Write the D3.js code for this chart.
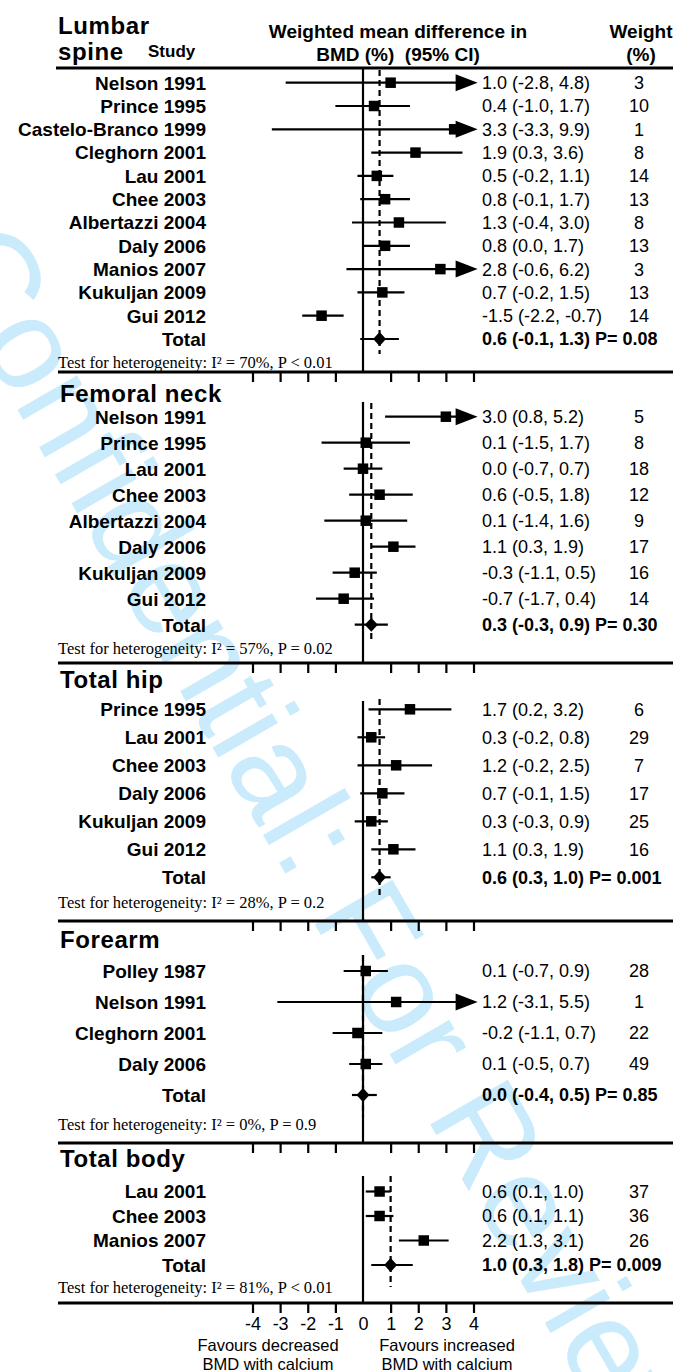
<!DOCTYPE html>
<html>
<head>
<meta charset="utf-8">
<script src="https://cdn.jsdelivr.net/npm/d3@7"></script>
<style>
html,body{margin:0;padding:0;background:#fff;}
svg{display:block;}
</style>
</head>
<body>
<svg id="chart" width="673" height="1372"></svg>
<script>
// ---------------- DATA ----------------
const sectionTitles = ["Lumbar spine", "Femoral neck", "Total hip", "Forearm", "Total body"];

const lumbarStudies = ["Nelson 1991","Prince 1995","Castelo-Branco 1999","Cleghorn 2001","Lau 2001","Chee 2003","Albertazzi 2004","Daly 2006","Manios 2007","Kukuljan 2009","Gui 2012"];
const lumbarMean   = [1.0, 0.4, 3.3, 1.9, 0.5, 0.8, 1.3, 0.8, 2.8, 0.7, -1.5];
const lumbarLow    = [-2.8, -1.0, -3.3, 0.3, -0.2, -0.1, -0.4, 0.0, -0.6, -0.2, -2.2];
const lumbarHigh   = [4.8, 1.7, 9.9, 3.6, 1.1, 1.7, 3.0, 1.7, 6.2, 1.5, -0.7];
const lumbarWeight = [3, 10, 1, 8, 14, 13, 8, 13, 3, 13, 14];

const femoralStudies = ["Nelson 1991","Prince 1995","Lau 2001","Chee 2003","Albertazzi 2004","Daly 2006","Kukuljan 2009","Gui 2012"];
const femoralMean   = [3.0, 0.1, 0.0, 0.6, 0.1, 1.1, -0.3, -0.7];
const femoralLow    = [0.8, -1.5, -0.7, -0.5, -1.4, 0.3, -1.1, -1.7];
const femoralHigh   = [5.2, 1.7, 0.7, 1.8, 1.6, 1.9, 0.5, 0.4];
const femoralWeight = [5, 8, 18, 12, 9, 17, 16, 14];

const hipStudies = ["Prince 1995","Lau 2001","Chee 2003","Daly 2006","Kukuljan 2009","Gui 2012"];
const hipMean   = [1.7, 0.3, 1.2, 0.7, 0.3, 1.1];
const hipLow    = [0.2, -0.2, -0.2, -0.1, -0.3, 0.3];
const hipHigh   = [3.2, 0.8, 2.5, 1.5, 0.9, 1.9];
const hipWeight = [6, 29, 7, 17, 25, 16];

const forearmStudies = ["Polley 1987","Nelson 1991","Cleghorn 2001","Daly 2006"];
const forearmMean   = [0.1, 1.2, -0.2, 0.1];
const forearmLow    = [-0.7, -3.1, -1.1, -0.5];
const forearmHigh   = [0.9, 5.5, 0.7, 0.7];
const forearmWeight = [28, 1, 22, 49];

const bodyStudies = ["Lau 2001","Chee 2003","Manios 2007"];
const bodyMean   = [0.6, 0.6, 2.2];
const bodyLow    = [0.1, 0.1, 1.3];
const bodyHigh   = [1.0, 1.1, 3.1];
const bodyWeight = [37, 36, 26];

const totalMean = [0.6, 0.3, 0.6, 0.0, 1.0];
const totalLow  = [-0.1, -0.3, 0.3, -0.4, 0.3];
const totalHigh = [1.3, 0.9, 1.0, 0.5, 1.8];
const totalP    = ["0.08", "0.30", "0.001", "0.85", "0.009"];
const heterogeneity = ["I\u00B2 = 70%, P < 0.01", "I\u00B2 = 57%, P = 0.02", "I\u00B2 = 28%, P = 0.2", "I\u00B2 = 0%, P = 0.9", "I\u00B2 = 81%, P < 0.01"];

const tickValues = [-4, -3, -2, -1, 0, 1, 2, 3, 4];
const axisLabelLeft  = ["Favours decreased", "BMD with calcium"];
const axisLabelRight = ["Favours increased", "BMD with calcium"];
const watermarkText = "Confidential: For Review Only";

// ---------------- LAYOUT ----------------
const sections = [
  {studies: lumbarStudies, mean: lumbarMean, low: lumbarLow, high: lumbarHigh, weight: lumbarWeight},
  {studies: femoralStudies, mean: femoralMean, low: femoralLow, high: femoralHigh, weight: femoralWeight},
  {studies: hipStudies, mean: hipMean, low: hipLow, high: hipHigh, weight: hipWeight},
  {studies: forearmStudies, mean: forearmMean, low: forearmLow, high: forearmHigh, weight: forearmWeight},
  {studies: bodyStudies, mean: bodyMean, low: bodyLow, high: bodyHigh, weight: bodyWeight}
];
const geom = [
  {title: null, first: 82.7, step: 23.3, het: 363, sep: 372, zeroTop: 68, dashTop: 70, dashBot: 354},
  {title: 393, first: 416.7, step: 26, het: 649, sep: 663, zeroTop: 402, dashTop: 403, dashBot: 643},
  {title: 679, first: 709.3, step: 28, het: 903, sep: 921, zeroTop: 701, dashTop: 699, dashBot: 898},
  {title: 939, first: 971, step: 31, het: 1125, sep: 1143, zeroTop: 955, dashTop: 955, dashBot: 1117},
  {title: 1158, first: 1191.5, step: 24.5, het: 1288, sep: 1303, zeroTop: 1176, dashTop: 1176, dashBot: 1287}
];

const W = 673;
const lineLeft = 58;
const labelRight = 206;
const estX = 482;
const weightX = 639;
const clipMax = 4.15;
const SANS = "'Liberation Sans', Arial, Helvetica, sans-serif";
const SERIF = "'Liberation Serif', 'Times New Roman', serif";

const svg = d3.select("#chart");
const x = d3.scaleLinear().domain([-4, 4]).range([252.5, 473.5]);

// ---------- watermark ----------
svg.append("text")
  .attr("transform", "translate(-70,258) rotate(60)")
  .attr("font-family", SANS)
  .attr("font-size", 130)
  .attr("fill", "#c9ebfb")
  .text(watermarkText);

// ---------- header ----------
svg.append("text").attr("x", 58).attr("y", 34).attr("font-family", SANS).attr("font-weight", "bold")
  .attr("font-size", 24).attr("letter-spacing", 0.6).text("Lumbar");
svg.append("text").attr("x", 58).attr("y", 60).attr("font-family", SANS).attr("font-weight", "bold")
  .attr("font-size", 24).attr("letter-spacing", 0.6).text("spine");
svg.append("text").attr("x", 148).attr("y", 57).attr("font-family", SANS).attr("font-weight", "bold")
  .attr("font-size", 17).text("Study");
svg.append("text").attr("x", 398).attr("y", 38).attr("text-anchor", "middle").attr("font-family", SANS)
  .attr("font-weight", "bold").attr("font-size", 19).text("Weighted mean difference in");
svg.append("text").attr("x", 398).attr("y", 61).attr("text-anchor", "middle").attr("font-family", SANS)
  .attr("font-weight", "bold").attr("font-size", 19).attr("xml:space", "preserve").text("BMD (%)  (95% CI)");
svg.append("text").attr("x", 641).attr("y", 38).attr("text-anchor", "middle").attr("font-family", SANS)
  .attr("font-weight", "bold").attr("font-size", 19).text("Weight");
svg.append("text").attr("x", 641).attr("y", 61).attr("text-anchor", "middle").attr("font-family", SANS)
  .attr("font-weight", "bold").attr("font-size", 19).text("(%)");
svg.append("line").attr("x1", 56).attr("x2", W).attr("y1", 68).attr("y2", 68)
  .attr("stroke", "#000").attr("stroke-width", 2.8);

const fmt = v => d3.format(".1f")(v).replace("\u2212", "-");
const ci = (m, l, h) => `${fmt(m)} (${fmt(l)}, ${fmt(h)})`;

sections.forEach((sec, si) => {
  const g = geom[si];
  const grp = svg.append("g");
  const rowY = i => g.first + i * g.step;
  const n = sec.studies.length;
  const totY = rowY(n);

  if (g.title !== null) {
    grp.append("text").attr("x", 60).attr("y", g.title).attr("dy", "0.36em")
      .attr("font-family", SANS).attr("font-weight", "bold").attr("font-size", 24)
      .attr("letter-spacing", 0.6).text(sectionTitles[si]);
  }

  grp.append("line").attr("x1", x(0)).attr("x2", x(0)).attr("y1", g.zeroTop).attr("y2", g.sep)
    .attr("stroke", "#000").attr("stroke-width", 2.2);
  grp.append("line").attr("x1", x(totalMean[si])).attr("x2", x(totalMean[si]))
    .attr("y1", g.dashTop).attr("y2", g.dashBot)
    .attr("stroke", "#000").attr("stroke-width", 2.2).attr("stroke-dasharray", "6,4");

  sec.studies.forEach((s, i) => {
    const y = rowY(i);
    grp.append("text").attr("x", labelRight).attr("y", y).attr("dy", "0.36em").attr("text-anchor", "end")
      .attr("font-family", SANS).attr("font-weight", "bold").attr("font-size", 19).text(s);
    const hi = sec.high[i];
    const clipped = hi > clipMax;
    const xr = clipped ? x(clipMax) - 20 : x(hi);
    grp.append("line").attr("x1", x(sec.low[i])).attr("x2", xr).attr("y1", y).attr("y2", y)
      .attr("stroke", "#000").attr("stroke-width", 2.2);
    if (clipped) {
      const tip = x(clipMax);
      grp.append("path").attr("d", `M${tip - 22},${y - 8.5}L${tip},${y}L${tip - 22},${y + 8.5}Z`).attr("fill", "#000");
    }
    const sz = 10.5;
    grp.append("rect").attr("x", x(sec.mean[i]) - sz / 2).attr("y", y - sz / 2)
      .attr("width", sz).attr("height", sz).attr("fill", "#000");
    grp.append("text").attr("x", estX).attr("y", y).attr("dy", "0.36em")
      .attr("font-family", SANS).attr("font-size", 18).text(ci(sec.mean[i], sec.low[i], hi));
    grp.append("text").attr("x", weightX).attr("y", y).attr("dy", "0.36em").attr("text-anchor", "middle")
      .attr("font-family", SANS).attr("font-size", 18).text(sec.weight[i]);
  });

  grp.append("text").attr("x", labelRight).attr("y", totY).attr("dy", "0.36em").attr("text-anchor", "end")
    .attr("font-family", SANS).attr("font-weight", "bold").attr("font-size", 19).text("Total");
  grp.append("line").attr("x1", x(totalLow[si])).attr("x2", x(totalHigh[si])).attr("y1", totY).attr("y2", totY)
    .attr("stroke", "#000").attr("stroke-width", 2.2);
  const cx = x(totalMean[si]);
  grp.append("path").attr("d", `M${cx - 6.5},${totY}L${cx},${totY - 7}L${cx + 6.5},${totY}L${cx},${totY + 7}Z`)
    .attr("fill", "#000");
  grp.append("text").attr("x", estX).attr("y", totY).attr("dy", "0.36em")
    .attr("font-family", SANS).attr("font-weight", "bold").attr("font-size", 18)
    .text(`${ci(totalMean[si], totalLow[si], totalHigh[si])} P= ${totalP[si]}`);

  grp.append("text").attr("x", 58).attr("y", g.het).attr("dy", "0.33em")
    .attr("font-family", SERIF).attr("font-size", 16.5)
    .text(`Test for heterogeneity: ${heterogeneity[si]}`);

  grp.append("line").attr("x1", lineLeft).attr("x2", W).attr("y1", g.sep).attr("y2", g.sep)
    .attr("stroke", "#000").attr("stroke-width", 2.8);
  const last = si === sections.length - 1;
  const axis = d3.axisBottom(x).tickValues(tickValues).tickSize(10).tickPadding(4)
    .tickFormat(last ? (d => String(d)) : () => "");
  const ag = grp.append("g").attr("transform", `translate(0,${g.sep})`).call(axis);
  ag.select(".domain").remove();
  ag.selectAll(".tick line").attr("stroke", "#000").attr("stroke-width", 2.2)
    .style("display", d => d === 0 ? "none" : null);
  ag.selectAll(".tick text").attr("font-family", SANS).attr("font-size", 18).attr("fill", "#000");
});

[axisLabelLeft, axisLabelRight].forEach((lines, k) => {
  const cx = k === 0 ? 268 : 447;
  lines.forEach((t, j) => {
    svg.append("text").attr("x", cx).attr("y", 1351 + j * 19).attr("text-anchor", "middle")
      .attr("font-family", SANS).attr("font-size", 16.5).text(t);
  });
});
</script>
</body>
</html>
